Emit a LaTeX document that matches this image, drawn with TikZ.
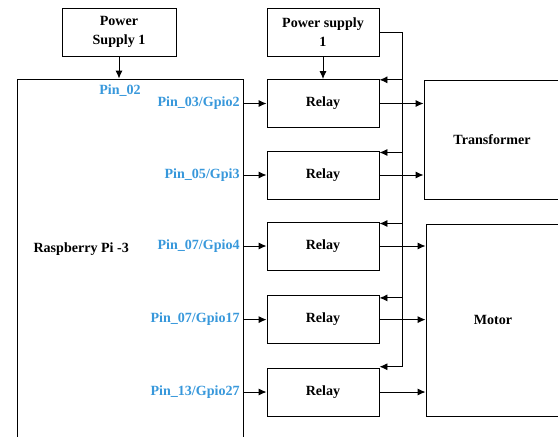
\documentclass[tikz,border=0pt]{standalone}
\usepackage{fontspec}
\setmainfont{Liberation Serif}
\usetikzlibrary{arrows.meta}
\definecolor{pinblue}{RGB}{56,152,219}
\begin{document}
\begin{tikzpicture}[line width=0.7pt, >={Latex[length=2mm,width=1.8mm]},
  box/.style={draw, minimum width=2.8cm, minimum height=1.2cm, inner sep=0pt, align=center, font=\bfseries\fontsize{10}{13.5}\selectfont},
  pin/.style={text=pinblue, anchor=east, inner sep=1pt, font=\bfseries\fontsize{10}{12}\selectfont}]
\useasboundingbox (0,0) rectangle (13.95,-10.9);
\clip (0,0) rectangle (13.95,-10.9);
% supplies
\node[box, minimum width=2.85cm] (ps1) at (2.975,-0.8) {Power\\Supply 1};
\node[box] (ps2) at (8.075,-0.8) {Power supply\\1};
% raspberry pi (runs off the bottom)
\node[draw, minimum width=5.65cm, minimum height=9.5cm] (pi) at (3.25,-6.725) {};
\node[font=\bfseries\fontsize{10}{12}\selectfont] (pitxt) at (2.03,-6.225) {Raspberry Pi -3};
% relays
\node[box] (r1) at (8.075,-2.5875) {Relay};
\node[box] (r2) at (8.075,-4.375) {Relay};
\node[box] (r3) at (8.075,-6.15) {Relay};
\node[box] (r4) at (8.075,-7.99) {Relay};
\node[box] (r5) at (8.075,-9.8) {Relay};
% loads
\node[box, minimum width=3.4cm, minimum height=2.975cm] (tr) at (12.3,-3.4875) {Transformer};
\node[box, minimum width=3.35cm, minimum height=4.8cm] (mo) at (12.325,-8.0) {Motor};
% pins
\node[pin, anchor=center] (l0) at (3.0,-2.275) {Pin\_02};
\node[pin] (l1) at ([xshift=-0.05cm]pi.east |- r1) {Pin\_03/Gpio2};
\node[pin] (l2) at ([xshift=-0.05cm]pi.east |- r2) {Pin\_05/Gpi3};
\node[pin] (l3) at ([xshift=-0.05cm]pi.east |- r3) {Pin\_07/Gpio4};
\node[pin] (l4) at ([xshift=-0.05cm]pi.east |- r4) {Pin\_07/Gpio17};
\node[pin] (l5) at ([xshift=-0.05cm]pi.east |- r5) {Pin\_13/Gpio27};
\draw[->] (ps1.south) -- (ps1.south |- pi.north);
\draw[->] (ps2.south) -- (r1.north);
\draw[->] (pi.east |- r1) -- (r1.west);
\draw[->] (pi.east |- r2) -- (r2.west);
\draw[->] (pi.east |- r3) -- (r3.west);
\draw[->] (pi.east |- r4) -- (r4.west);
\draw[->] (pi.east |- r5) -- (r5.west);
% supply bus
\coordinate (p1) at ([yshift=-0.02cm]r1.north east);
\coordinate (p2) at ([yshift=-0.05cm]r2.north east);
\coordinate (p3) at ([yshift=-0.05cm]r3.north east);
\coordinate (p4) at ([yshift=-0.07cm]r4.north east);
\coordinate (p5) at ([yshift=0.02cm]r5.north east);
\coordinate (bus) at (10.05,-0.8);
\draw (ps2.east) -- (bus) -- (bus |- p5);
\draw[->] (bus |- p1) -- (p1);
\draw[->] (bus |- p2) -- (p2);
\draw[->] (bus |- p3) -- (p3);
\draw[->] (bus |- p4) -- (p4);
\draw[->] (bus |- p5) -- (p5);
% outputs
\draw[->] (r1.east) -- (r1.east -| tr.west);
\draw[->] (r2.east) -- (r2.east -| tr.west);
\draw[->] (r3.east) -- (r3.east -| mo.west);
\draw[->] (r4.east) -- (r4.east -| mo.west);
\draw[->] (r5.east) -- (r5.east -| mo.west);
\end{tikzpicture}
\end{document}
